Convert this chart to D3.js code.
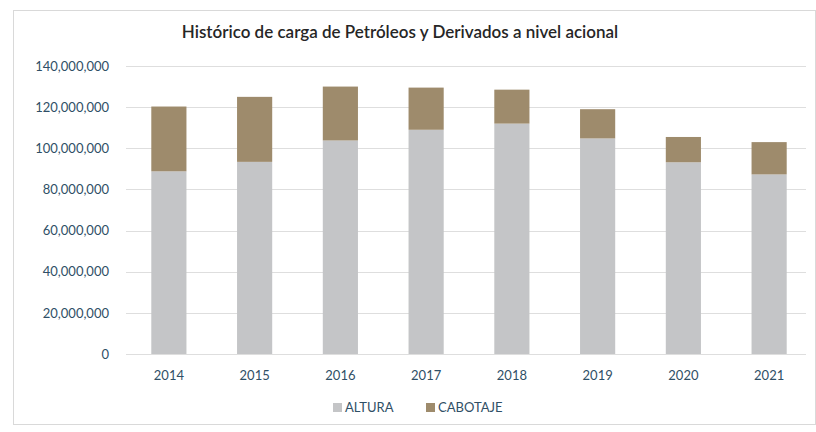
<!DOCTYPE html>
<html>
<head>
<meta charset="utf-8">
<script src="https://cdn.jsdelivr.net/npm/d3@7"></script>
<style>
  html, body { margin: 0; padding: 0; background: #fff; }
  svg { display: block; font-family: "Lato", "Open Sans", sans-serif; }
</style>
</head>
<body>
<svg id="chart" width="816" height="432"></svg>
<script>
// Historico de carga
const years = ['2014', '2015', '2016', '2017', '2018', '2019', '2020', '2021'];
const altura = [88800000, 93400000, 103800000, 109000000, 112000000, 104800000, 93200000, 87300000];
const cabotaje = [31500000, 31600000, 26200000, 20500000, 16500000, 14200000, 12300000, 15700000];
const yTicks = [0, 20000000, 40000000, 60000000, 80000000, 100000000, 120000000, 140000000];
const seriesNames = ['ALTURA', 'CABOTAJE'];

const colors = { ALTURA: '#c4c5c7', CABOTAJE: '#9e8b6c' };
const W = 816, H = 432;
const margin = { top: 66, right: 4, bottom: 78, left: 126 };

const svg = d3.select('#chart');

// frame of the chart area (light border like the scan)
svg.append('rect')
  .attr('x', 13.5).attr('y', 10.5)
  .attr('width', W - 14).attr('height', 414)
  .attr('fill', '#fff')
  .attr('stroke', '#d9d9d9');

const x = d3.scaleBand()
  .domain(years)
  .range([margin.left, W - margin.right])
  .paddingInner(0.59)
  .paddingOuter(0.295);

const y = d3.scaleLinear()
  .domain([0, 140000000])
  .range([H - margin.bottom, margin.top]);

// gridlines
svg.append('g')
  .selectAll('line')
  .data(yTicks)
  .join('line')
  .attr('x1', margin.left).attr('x2', W - 10)
  .attr('y1', d => Math.round(y(d)) + 0.5)
  .attr('y2', d => Math.round(y(d)) + 0.5)
  .attr('stroke', '#dedede')
  .attr('stroke-width', 1);

// y axis labels
const yAxis = svg.append('g')
  .attr('transform', `translate(${margin.left - 14},0)`)
  .call(d3.axisLeft(y).tickValues(yTicks).tickSize(0).tickFormat(d3.format(',')));
yAxis.select('.domain').remove();
yAxis.selectAll('text')
  .attr('fill', '#2f4f66')
  .attr('font-size', 13)
  .attr('font-family', 'Lato, "Open Sans", sans-serif');

// stacked bars
const rows = years.map((yr, i) => ({ year: yr, ALTURA: altura[i], CABOTAJE: cabotaje[i] }));
const stacked = d3.stack().keys(seriesNames)(rows);

svg.append('g')
  .selectAll('g')
  .data(stacked)
  .join('g')
  .attr('fill', d => colors[d.key])
  .selectAll('rect')
  .data(d => d)
  .join('rect')
  .attr('x', d => x(d.data.year))
  .attr('y', d => y(d[1]))
  .attr('width', x.bandwidth())
  .attr('height', d => y(d[0]) - y(d[1]));

// x axis labels
const xAxis = svg.append('g')
  .attr('transform', `translate(0,${H - margin.bottom + 14})`)
  .call(d3.axisBottom(x).tickSize(0));
xAxis.select('.domain').remove();
xAxis.selectAll('text')
  .attr('fill', '#2f4f66')
  .attr('font-size', 13)
  .attr('font-family', 'Lato, "Open Sans", sans-serif');

// title
svg.append('text')
  .attr('x', 400).attr('y', 38)
  .attr('text-anchor', 'middle')
  .attr('font-size', 17)
  .attr('font-weight', 600)
  .attr('fill', '#262626')
  .text('Histórico de carga de Petróleos y Derivados a nivel acional');

// legend
const legendX = [333, 426];
const legend = svg.append('g');
seriesNames.forEach((name, i) => {
  legend.append('rect')
    .attr('x', legendX[i]).attr('y', 403)
    .attr('width', 9).attr('height', 9)
    .attr('fill', colors[name]);
  legend.append('text')
    .attr('x', legendX[i] + 12).attr('y', 412)
    .attr('font-size', 13)
    .attr('fill', '#2f4f66')
    .text(name);
});
</script>
</body>
</html>
